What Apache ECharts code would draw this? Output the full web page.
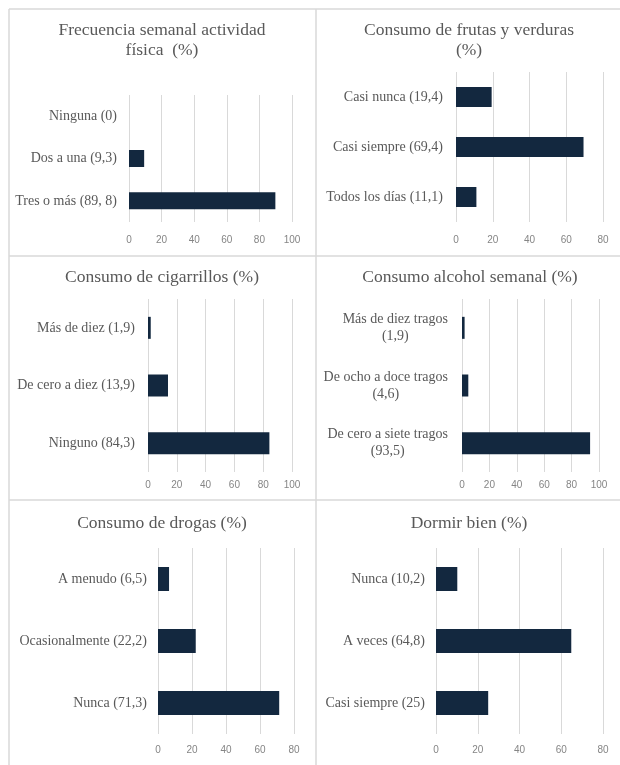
<!DOCTYPE html>
<html>
<head>
<meta charset="utf-8">
<script src="https://cdn.jsdelivr.net/npm/echarts@6/dist/echarts.min.js"></script>
<style>
html,body{margin:0;padding:0;background:#fff;}
#chart{width:620px;height:765px;}
</style>
</head>
<body>
<div id="chart"></div>
<script>
// ---- Data ----
const titles = [
  "Frecuencia semanal actividad\nfísica  (%)",
  "Consumo de frutas y verduras\n(%)",
  "Consumo de cigarrillos (%)",
  "Consumo alcohol semanal (%)",
  "Consumo de drogas (%)",
  "Dormir bien (%)"
];
const cats1 = ["Ninguna (0)", "Dos a una (9,3)", "Tres o más (89, 8)"];
const vals1 = [0, 9.3, 89.8];
const cats2 = ["Casi nunca (19,4)", "Casi siempre (69,4)", "Todos los días (11,1)"];
const vals2 = [19.4, 69.4, 11.1];
const cats3 = ["Más de diez (1,9)", "De cero a diez (13,9)", "Ninguno (84,3)"];
const vals3 = [1.9, 13.9, 84.3];
const cats4 = ["Más de diez tragos\n(1,9)", "De ocho a doce tragos\n(4,6)", "De cero a siete tragos\n(93,5)"];
const vals4 = [1.9, 4.6, 93.5];
const cats5 = ["A menudo (6,5)", "Ocasionalmente (22,2)", "Nunca (71,3)"];
const vals5 = [6.5, 22.2, 71.3];
const cats6 = ["Nunca (10,2)", "A veces (64,8)", "Casi siempre (25)"];
const vals6 = [10.2, 64.8, 25];
const axisMax = [100, 80, 100, 100, 80, 80];
const tickInterval = 20;

const allCats = [cats1, cats2, cats3, cats4, cats5, cats6];
const allVals = [vals1, vals2, vals3, vals4, vals5, vals6];

// ---- Layout ----
const grids = [
  {left: 129, top: 95,  width: 163, height: 127},
  {left: 456, top: 72,  width: 147, height: 150},
  {left: 148, top: 299, width: 144, height: 173},
  {left: 462, top: 299, width: 137, height: 173},
  {left: 158, top: 548, width: 136, height: 186},
  {left: 436, top: 548, width: 167, height: 186}
];
const titlePos = [
  {x: 162, y: 20}, {x: 469, y: 20},
  {x: 162, y: 267}, {x: 470, y: 267},
  {x: 162, y: 513}, {x: 469, y: 513}
];
const barWidths = [17, 20, 22, 22, 24, 24];
const labelMargins = [12, 13, 13, 14, 11, 11];
const tickMargins = [13, 13, 8, 8, 11, 11];

const serif = "'Liberation Serif', 'DejaVu Serif', serif";
const sans = "'Liberation Sans', Arial, sans-serif";
const textColor = '#595959';
const barColor = '#13283f';
const lineColor = '#d9d9d9';

const option = {
  animation: false,
  backgroundColor: '#ffffff',
  title: titles.map((t, i) => ({
    text: t,
    left: titlePos[i].x,
    top: titlePos[i].y,
    textAlign: 'center',
    padding: 0,
    textStyle: {fontFamily: serif, fontSize: 17.5, fontWeight: 'normal', color: textColor, lineHeight: 20}
  })),
  grid: grids.map(g => Object.assign({containLabel: false}, g)),
  xAxis: grids.map((g, i) => ({
    type: 'value',
    gridIndex: i,
    min: 0,
    max: axisMax[i],
    interval: tickInterval,
    axisLine: {show: false},
    axisTick: {show: false},
    splitLine: {show: true, lineStyle: {color: lineColor, width: 1}},
    axisLabel: {fontFamily: sans, fontSize: 10, color: '#858585', margin: tickMargins[i]}
  })),
  yAxis: grids.map((g, i) => ({
    type: 'category',
    gridIndex: i,
    inverse: true,
    data: allCats[i],
    axisLine: {show: false},
    axisTick: {show: false},
    splitLine: {show: false},
    axisLabel: {
      margin: labelMargins[i],
      formatter: v => v.split('\n').map(s => '{a|' + s + '}').join('\n'),
      rich: {a: {align: 'center', fontFamily: serif, fontSize: 14, color: textColor, lineHeight: 17}}
    }
  })),
  series: allVals.map((vals, i) => ({
    type: 'bar',
    xAxisIndex: i,
    yAxisIndex: i,
    data: vals,
    barWidth: barWidths[i],
    itemStyle: {color: barColor}
  })),
  graphic: [
    {type: 'line', shape: {x1: 9, y1: 9, x2: 620, y2: 9}, style: {stroke: lineColor, lineWidth: 1.5}},
    {type: 'line', shape: {x1: 9, y1: 256, x2: 620, y2: 256}, style: {stroke: lineColor, lineWidth: 1.5}},
    {type: 'line', shape: {x1: 9, y1: 500, x2: 620, y2: 500}, style: {stroke: lineColor, lineWidth: 1.5}},
    {type: 'line', shape: {x1: 9, y1: 9, x2: 9, y2: 765}, style: {stroke: lineColor, lineWidth: 1.5}},
    {type: 'line', shape: {x1: 316, y1: 9, x2: 316, y2: 765}, style: {stroke: lineColor, lineWidth: 1.5}}
  ]
};

const chart = echarts.init(document.getElementById('chart'), null, {renderer: 'canvas'});
chart.setOption(option);
</script>
</body>
</html>
